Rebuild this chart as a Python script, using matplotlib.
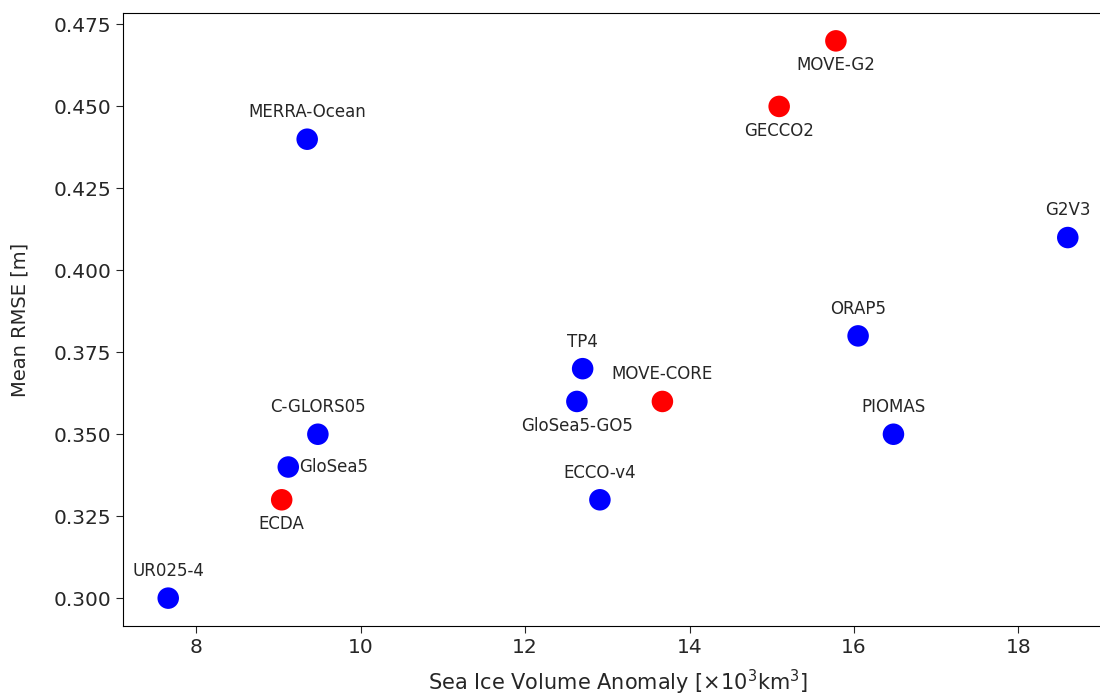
import numpy as np
import matplotlib
matplotlib.use('agg')
import matplotlib.pyplot as plt

# reanalysis products: sea ice volume anomaly vs mean RMSE
names = ['UR025-4', 'ECDA', 'GloSea5', 'C-GLORS05', 'MERRA-Ocean', 'TP4',
         'GloSea5-GO5', 'ECCO-v4', 'MOVE-CORE', 'GECCO2', 'MOVE-G2',
         'ORAP5', 'PIOMAS', 'G2V3']
volume = [7.66, 9.04, 9.12, 9.48, 9.35, 12.70, 12.63, 12.91, 13.67,
          15.09, 15.78, 16.05, 16.48, 18.60]
rmse = [0.30, 0.33, 0.34, 0.35, 0.44, 0.37, 0.36, 0.33, 0.36,
        0.45, 0.47, 0.38, 0.35, 0.41]
colors = ['b', 'r', 'b', 'b', 'b', 'b', 'b', 'b', 'r', 'r', 'r', 'b', 'b', 'b']
# where each label goes relative to its dot
label_pos = ['above', 'below', 'right', 'above', 'above', 'above', 'below',
             'above', 'above', 'below', 'below', 'above', 'above', 'above']

fig = plt.figure(figsize=(11, 7), dpi=100)
ax = fig.add_axes([123 / 1100, 74 / 700, 990 / 1100, 613 / 700])

ax.scatter(volume, rmse, c=colors, s=240, linewidths=0, zorder=3)

offsets = {'above': ((0, 13), 'center', 'bottom'),
           'below': ((0, -11), 'center', 'top'),
           'right': ((8, 0), 'left', 'center')}
for n, x, y, p in zip(names, volume, rmse, label_pos):
    off, ha, va = offsets[p]
    ax.annotate(n, (x, y), xytext=off, textcoords='offset points',
                ha=ha, va=va, fontsize=12, color='#262626')

ax.set_xlim(7.11, 19.15)
ax.set_ylim(0.2915, 0.4785)
ax.set_xticks([8, 10, 12, 14, 16, 18])
ax.set_yticks(np.arange(0.300, 0.476, 0.025))
ax.yaxis.set_major_formatter(matplotlib.ticker.FormatStrFormatter('%.3f'))
ax.tick_params(labelsize=14.5, colors='#262626', labelcolor='#262626',
               length=5)
ax.set_xlabel(r'Sea Ice Volume Anomaly [$\times 10^3$km$^3$]', fontsize=15,
              color='#262626', labelpad=8)
ax.set_ylabel('Mean RMSE [m]', fontsize=14, color='#262626', labelpad=17)

fig.savefig('out.png', dpi=100)
